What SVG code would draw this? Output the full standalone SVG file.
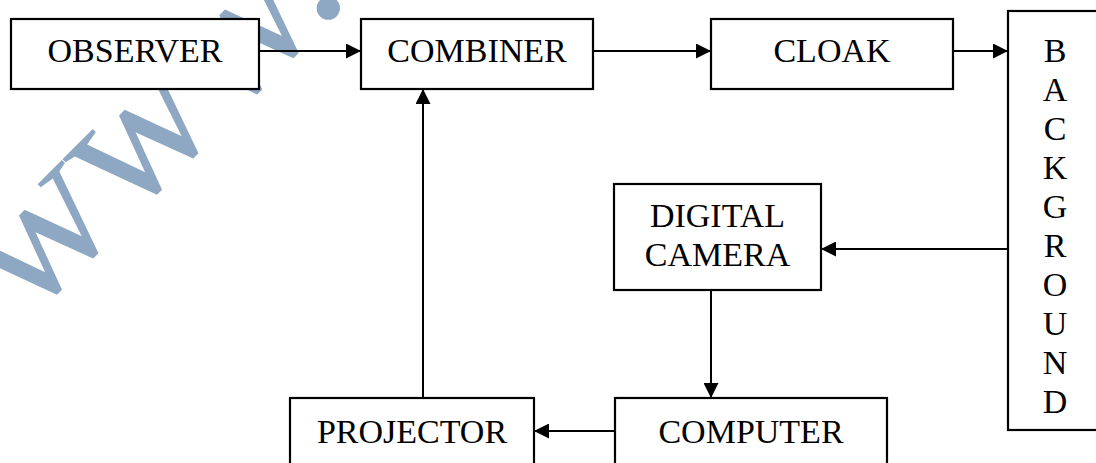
<svg xmlns="http://www.w3.org/2000/svg" width="1096" height="463" viewBox="0 0 1096 463">
  <style>
    .box { fill: #ffffff; stroke: #000000; stroke-width: 2.2; }
    .lbl { font-family: "Liberation Serif", "Times New Roman", serif; font-size: 34px; fill: #000000; text-anchor: middle; }
    .wire { fill: none; stroke: #000000; stroke-width: 2; }
    .mark { font-family: "Liberation Serif", "Times New Roman", serif; font-size: 196px; fill: #8ea7c2; }
  </style>
  <defs>
    <marker id="arrow" markerUnits="userSpaceOnUse" markerWidth="15" markerHeight="15" refX="15" refY="7.5" orient="auto">
      <path d="M0,0 L15,7.5 L0,15 Z" fill="#000000"/>
    </marker>
  </defs>

  <rect width="1096" height="463" fill="#ffffff"/>

  <!-- site watermark, running diagonally behind the white blocks -->
  <text class="mark" transform="translate(26,323) rotate(-45)">www.</text>

  <g id="observer">
    <rect class="box" x="11" y="19" width="248" height="70"/>
    <text class="lbl" x="135" y="62">OBSERVER</text>
  </g>

  <g id="combiner">
    <rect class="box" x="361" y="19" width="232" height="70"/>
    <text class="lbl" x="477" y="62">COMBINER</text>
  </g>

  <g id="cloak">
    <rect class="box" x="711" y="19" width="242" height="70"/>
    <text class="lbl" x="832" y="62">CLOAK</text>
  </g>

  <g id="background">
    <rect class="box" x="1008" y="11" width="110" height="419"/>
    <text class="lbl" x="1055" y="62">B</text>
    <text class="lbl" x="1055" y="101">A</text>
    <text class="lbl" x="1055" y="140">C</text>
    <text class="lbl" x="1055" y="179">K</text>
    <text class="lbl" x="1055" y="218">G</text>
    <text class="lbl" x="1055" y="257">R</text>
    <text class="lbl" x="1055" y="296">O</text>
    <text class="lbl" x="1055" y="335">U</text>
    <text class="lbl" x="1055" y="374">N</text>
    <text class="lbl" x="1055" y="413">D</text>
  </g>

  <g id="digital-camera">
    <rect class="box" x="614" y="184" width="207" height="106"/>
    <text class="lbl" x="717.5" y="227">DIGITAL</text>
    <text class="lbl" x="717.5" y="266">CAMERA</text>
  </g>

  <g id="computer">
    <rect class="box" x="615" y="398" width="272" height="80"/>
    <text class="lbl" x="751" y="443">COMPUTER</text>
  </g>

  <g id="projector">
    <rect class="box" x="290" y="398" width="244" height="80"/>
    <text class="lbl" x="412" y="443">PROJECTOR</text>
  </g>

  <g id="connectors">
    <line class="wire" x1="259" y1="51" x2="361" y2="51" marker-end="url(#arrow)"/>
    <line class="wire" x1="593" y1="51" x2="711" y2="51" marker-end="url(#arrow)"/>
    <line class="wire" x1="953" y1="51" x2="1008" y2="51" marker-end="url(#arrow)"/>
    <line class="wire" x1="1008" y1="249" x2="821" y2="249" marker-end="url(#arrow)"/>
    <line class="wire" x1="711" y1="290" x2="711" y2="398" marker-end="url(#arrow)"/>
    <line class="wire" x1="615" y1="431" x2="534" y2="431" marker-end="url(#arrow)"/>
    <line class="wire" x1="423" y1="398" x2="423" y2="89" marker-end="url(#arrow)"/>
  </g>
</svg>
